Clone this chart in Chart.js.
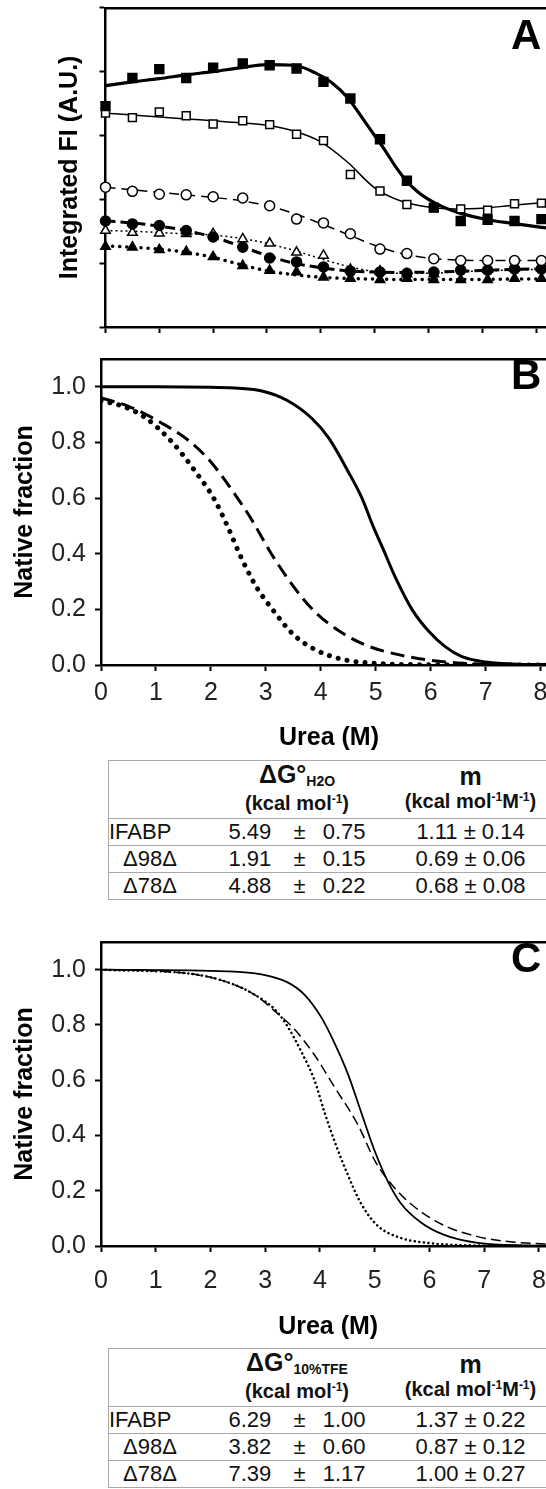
<!DOCTYPE html>
<html lang="en">
<head>
<meta charset="UTF-8">
<title>Urea denaturation of IFABP variants</title>
<script src="https://cdn.jsdelivr.net/npm/chart.js"></script>
<style>
  body {
    margin: 0;
    width: 546px;
    height: 1489px;
    overflow: hidden;
    position: relative;
    background: #fff;
    font-family: "Liberation Sans", Arial, sans-serif;
    color: #111;
  }
  canvas { position: absolute; left: 0; }
  #chartA { top: 0; }
  #chartB { top: 335px; }
  #chartC { top: 918px; }
  .panel {
    position: absolute;
    left: 511px;
    font-size: 42px;
    font-weight: bold;
    line-height: 1;
    color: #000;
  }
  table.params {
    position: absolute;
    left: 108px;
    width: 467px;
    table-layout: fixed;
    border-collapse: collapse;
    border-left: 1.5px solid #a8a8a8;
    font-size: 22px;
  }
  table.params td {
    padding: 0;
    height: 25px;
    border-top: 1.5px solid #a8a8a8;
    white-space: nowrap;
    vertical-align: middle;
  }
  table.params tr:last-child td { border-bottom: 1.5px solid #a8a8a8; }
  table.params tr.head td { height: 52px; text-align: center; font-weight: bold; }
  .h1 { font-size: 25px; line-height: 26px; }
  .h1 sub { font-size: 14px; vertical-align: baseline; position: relative; top: 3px; }
  .h2 { font-size: 20px; line-height: 24px; }
  .h2 sup { font-size: 12px; vertical-align: baseline; position: relative; top: -7px; }
  td.name { padding-left: 4px; }
  td.name.ind { padding-left: 14px; }
  td.val { padding-left: 4px; }
  td.pm { text-align: center; }
  td.err { text-align: right; padding-right: 3px; }
  td.m { text-align: center; }
</style>
</head>
<body>
  <canvas id="chartA" width="560" height="345"></canvas>
  <canvas id="chartB" width="560" height="420"></canvas>
  <canvas id="chartC" width="560" height="430"></canvas>

  <div class="panel" style="top:14px">A</div>
  <div class="panel" style="top:354px">B</div>
  <div class="panel" style="top:937px">C</div>

  <table class="params" id="tableH2O" style="top:760px">
    <colgroup><col style="width:120px"><col style="width:57px"><col style="width:28px"><col style="width:52px"><col style="width:210px"></colgroup>
    <tr class="head">
      <td></td>
      <td colspan="3"><div class="h1">&Delta;G&deg;<sub>H2O</sub></div><div class="h2">(kcal mol<sup>-1</sup>)</div></td>
      <td><div class="h1">m</div><div class="h2">(kcal mol<sup>-1</sup>M<sup>-1</sup>)</div></td>
    </tr>
  </table>

  <table class="params" id="tableTFE" style="top:1348px">
    <colgroup><col style="width:120px"><col style="width:57px"><col style="width:28px"><col style="width:52px"><col style="width:210px"></colgroup>
    <tr class="head">
      <td></td>
      <td colspan="3"><div class="h1">&Delta;G&deg;<sub>10%TFE</sub></div><div class="h2">(kcal mol<sup>-1</sup>)</div></td>
      <td><div class="h1">m</div><div class="h2">(kcal mol<sup>-1</sup>M<sup>-1</sup>)</div></td>
    </tr>
  </table>

<script>
  // urea axis
  const xTicks = [0, 1, 2, 3, 4, 5, 6, 7, 8];
  const xMax = 8.3;

  // panel A: measured points (integrated fluorescence, arbitrary units)
  const ureaPts = [0, 0.5, 1.0, 1.5, 2.0, 2.55, 3.05, 3.55, 4.05, 4.55, 5.1, 5.6, 6.1, 6.6, 7.1, 7.6, 8.1];
  const fillSqY = [3.46, 3.90, 4.04, 3.90, 4.06, 4.13, 4.10, 4.05, 3.84, 3.58, 2.94, 2.29, 1.87, 1.66, 1.68, 1.66, 1.69];
  const openSqY = [3.35, 3.28, 3.37, 3.31, 3.18, 3.23, 3.17, 3.02, 2.92, 2.39, 2.13, 1.92, 1.87, 1.85, 1.83, 1.93, 1.94];
  const openCircY = [2.19, 2.125, 2.08, 2.07, 2.04, 2.02, 1.90, 1.69, 1.63, 1.46, 1.22, 1.15, 1.07, 1.04, 1.04, 1.04, 1.04];
  const fillCircY = [1.66, 1.615, 1.59, 1.51, 1.41, 1.25, 1.08, 1.02, 0.94, 0.875, 0.86, 0.84, 0.86, 0.89, 0.89, 0.91, 0.91];
  const openTriY = [1.51, 1.48, 1.47, 1.46, 1.46, 1.38, 1.31, 1.17, 1.12, 0.90, 0.875, 0.83, 0.83, 0.93, 0.90, 0.92, 0.92];
  const fillTriY = [1.26, 1.25, 1.21, 1.18, 1.10, 0.96, 0.885, 0.86, 0.78, 0.76, 0.74, 0.76, 0.74, 0.74, 0.74, 0.76, 0.76];

  // panel A: fitted curves
  const thickX = [0, 0.5, 1, 1.5, 2, 2.5, 3, 3.5, 3.9, 4.2, 4.5, 4.8, 5.0, 5.2, 5.4, 5.6, 5.8, 6.0, 6.3, 6.6, 7.1, 7.6, 8.1, 8.3];
  const thickY = [3.78, 3.84, 3.89, 3.95, 4.0, 4.06, 4.11, 4.10, 3.98, 3.83, 3.59, 3.24, 3.0, 2.76, 2.5, 2.28, 2.12, 2.0, 1.87, 1.78, 1.68, 1.62, 1.56, 1.54];
  const fitX = [0, 0.5, 1, 1.5, 2, 2.5, 3, 3.5, 4, 4.5, 5, 5.5, 6, 6.5, 7, 7.5, 8, 8.3];
  const openSqFit = [3.35, 3.32, 3.29, 3.26, 3.23, 3.2, 3.16, 3.07, 2.9, 2.58, 2.18, 1.97, 1.88, 1.85, 1.86, 1.9, 1.94, 1.96];
  const openCircFit = [2.19, 2.15, 2.11, 2.07, 2.03, 1.98, 1.9, 1.78, 1.62, 1.45, 1.28, 1.15, 1.08, 1.05, 1.04, 1.04, 1.04, 1.04];
  const fillCircFit = [1.66, 1.63, 1.58, 1.51, 1.41, 1.27, 1.12, 1.0, 0.93, 0.88, 0.86, 0.855, 0.86, 0.87, 0.885, 0.9, 0.91, 0.915];
  const openTriFit = [1.51, 1.50, 1.48, 1.46, 1.44, 1.39, 1.31, 1.2, 1.07, 0.95, 0.87, 0.84, 0.84, 0.86, 0.88, 0.89, 0.9, 0.9];
  const fillTriFit = [1.27, 1.25, 1.22, 1.17, 1.09, 0.98, 0.88, 0.82, 0.78, 0.76, 0.75, 0.745, 0.745, 0.745, 0.745, 0.75, 0.75, 0.75];
  const aTicks = [0, 1, 2, 3, 4, 5];

  // panel B: native fraction in water
  const fracTicks = [0, 0.2, 0.4, 0.6, 0.8, 1.0];
  const bSolidX = [0, 1, 2, 2.5, 2.93, 3.4, 3.84, 4.14, 4.5, 4.75, 4.95, 5.15, 5.36, 5.66, 5.97, 6.27, 6.57, 7.0, 7.5, 8.3];
  const bSolidY = [1.0, 1.0, 0.998, 0.995, 0.985, 0.95, 0.886, 0.817, 0.695, 0.6, 0.5, 0.41, 0.314, 0.2, 0.12, 0.065, 0.03, 0.011, 0.004, 0.001];
  const bDashX = [0, 0.5, 1.1, 1.6, 2.0, 2.45, 2.75, 3.1, 3.55, 3.9, 4.4, 4.85, 5.35, 6.0, 6.6, 7.5, 8.3];
  const bDashY = [0.96, 0.93, 0.87, 0.806, 0.73, 0.61, 0.52, 0.40, 0.27, 0.19, 0.114, 0.069, 0.04, 0.017, 0.006, 0.002, 0.001];
  const bDotX = [0, 0.4, 0.8, 1.3, 1.7, 2.05, 2.3, 2.52, 2.8, 3.12, 3.5, 3.9, 4.4, 5.0, 6.0, 8.3];
  const bDotY = [0.95, 0.93, 0.89, 0.80, 0.70, 0.60, 0.50, 0.40, 0.29, 0.20, 0.11, 0.055, 0.02, 0.006, 0.001, 0];

  // panel C: native fraction in 10% TFE
  const cSolidX = [0, 2.3, 2.93, 3.41, 3.72, 4.02, 4.26, 4.51, 4.75, 4.99, 5.24, 5.48, 5.84, 6.27, 6.88, 7.8, 8.3];
  const cSolidY = [1.0, 0.994, 0.983, 0.954, 0.909, 0.829, 0.737, 0.623, 0.486, 0.349, 0.234, 0.154, 0.086, 0.04, 0.011, 0.002, 0.001];
  const cDashX = [0, 1.1, 1.71, 2.32, 2.81, 3.17, 3.54, 3.9, 4.26, 4.69, 5.02, 5.36, 5.72, 6.27, 6.88, 7.48, 8.3];
  const cDashY = [1.0, 0.994, 0.983, 0.954, 0.909, 0.851, 0.783, 0.691, 0.577, 0.44, 0.303, 0.211, 0.143, 0.074, 0.034, 0.015, 0.006];
  const cDotX = [0, 1.71, 2.32, 2.81, 3.2, 3.41, 3.66, 3.9, 4.08, 4.26, 4.51, 4.75, 5.05, 5.48, 5.97, 6.6, 8.3];
  const cDotY = [1.0, 0.983, 0.954, 0.909, 0.851, 0.794, 0.703, 0.6, 0.486, 0.383, 0.257, 0.154, 0.074, 0.029, 0.011, 0.003, 0];

  // tables
  const rowNames = ['IFABP', '\u039498\u0394', '\u039478\u0394'];
  const dGH2O = ['5.49', '1.91', '4.88'];
  const dGH2Oerr = ['0.75', '0.15', '0.22'];
  const mH2O = ['1.11 \u00b1 0.14', '0.69 \u00b1 0.06', '0.68 \u00b1 0.08'];
  const dGTFE = ['6.29', '3.82', '7.39'];
  const dGTFEerr = ['1.00', '0.60', '1.17'];
  const mTFE = ['1.37 \u00b1 0.22', '0.87 \u00b1 0.12', '1.00 \u00b1 0.27'];

  Chart.defaults.font.family = '"Liberation Sans", Arial, sans-serif';
  Chart.defaults.color = '#000';

  function pts(xs, ys) {
    return xs.map((x, i) => ({ x: x, y: ys[i] }));
  }

  function markers(ys, style, fill, r) {
    return {
      data: pts(ureaPts, ys), showLine: false, clip: false,
      pointStyle: style, pointRadius: r,
      pointBackgroundColor: fill, pointBorderColor: '#000', pointBorderWidth: 1.5,
      order: 0
    };
  }

  function curve(xs, ys, width, dash, cap) {
    return {
      data: pts(xs, ys), showLine: true, pointRadius: 0, fill: false,
      borderColor: '#000', borderWidth: width, borderDash: dash || [],
      borderCapStyle: cap || 'butt', cubicInterpolationMode: 'monotone',
      order: 1
    };
  }

  function makeScales(o) {
    return {
      x: {
        type: 'linear', min: 0, max: xMax,
        afterBuildTicks: s => { s.ticks = xTicks.map(v => ({ value: v })); },
        afterFit: s => { s.height = o.xHeight; },
        border: { color: '#000', width: 2.5 },
        grid: { drawOnChartArea: false, color: '#000', tickLength: 6, tickWidth: 2 },
        ticks: { display: o.labels, autoSkip: false, maxRotation: 0, font: { size: 25 }, color: '#222', padding: o.tickPad || 3 },
        title: { display: o.labels, text: 'Urea (M)', font: { size: 25, weight: 'bold' }, color: '#000', padding: { top: 0, bottom: o.titlePad || 0 } }
      },
      xTop: {
        type: 'linear', position: 'top', min: 0, max: xMax,
        afterFit: s => { s.height = 0; },
        border: { display: true, color: '#000', width: 2.5 },
        grid: { display: false },
        ticks: { display: false }
      },
      y: {
        type: 'linear', min: 0, max: o.yMax,
        afterBuildTicks: s => { s.ticks = o.yTicks.map(v => ({ value: v })); },
        afterFit: s => { s.width = o.yWidth; },
        border: { color: '#000', width: 2.5 },
        grid: { drawOnChartArea: false, color: '#000', tickLength: 6, tickWidth: 2 },
        ticks: { display: o.labels, font: { size: 25 }, color: '#222', padding: 9, callback: v => v.toFixed(1) },
        title: { display: true, text: o.yTitle, font: { size: 25, weight: 'bold' }, color: '#000', padding: { top: o.yTitlePad, bottom: 0 } }
      }
    };
  }

  function makeChart(id, datasets, o) {
    return new Chart(document.getElementById(id), {
      type: 'scatter',
      data: { datasets: datasets },
      options: {
        responsive: false,
        animation: false,
        devicePixelRatio: 1,
        layout: { padding: { top: o.padTop, right: o.padRight, left: 0, bottom: 0 } },
        plugins: { legend: { display: false }, tooltip: { enabled: false } },
        scales: makeScales(o)
      }
    });
  }

  makeChart('chartA', [
    markers(fillSqY, 'rect', '#000', 6.3),
    markers(openSqY, 'rect', '#fff', 5.6),
    markers(openCircY, 'circle', '#fff', 5),
    markers(fillCircY, 'circle', '#000', 5),
    markers(openTriY, 'triangle', '#fff', 5.5),
    markers(fillTriY, 'triangle', '#000', 5.5),
    curve(thickX, thickY, 3.2),
    curve(fitX, openSqFit, 1.5),
    curve(fitX, openCircFit, 1.5, [10, 6]),
    curve(fitX, fillCircFit, 3, [10, 5]),
    curve(fitX, openTriFit, 1.5, [2, 3]),
    curve(fitX, fillTriFit, 3.5, [0.1, 7], 'round')
  ], {
    labels: false, xHeight: 18, yMax: 5, yTicks: aTicks, yWidth: 105.5,
    yTitle: 'Integrated FI (A.U.)', yTitlePad: 55, padTop: 7, padRight: 4
  });

  makeChart('chartB', [
    curve(bSolidX, bSolidY, 3),
    curve(bDashX, bDashY, 3, [14, 7]),
    curve(bDotX, bDotY, 5, [0.1, 9], 'round')
  ], {
    labels: true, xHeight: 90, tickPad: 7, titlePad: 2, yMax: 1.1, yTicks: fracTicks, yWidth: 101,
    yTitle: 'Native fraction', yTitlePad: 10, padTop: 10, padRight: 3
  });

  makeChart('chartC', [
    curve(cSolidX, cSolidY, 1.8),
    curve(cDashX, cDashY, 1.5, [10, 5]),
    curve(cDotX, cDotY, 2.5, [0.1, 4.5], 'round')
  ], {
    labels: true, xHeight: 102, tickPad: 14, titlePad: 6, yMax: 1.1, yTicks: fracTicks, yWidth: 101,
    yTitle: 'Native fraction', yTitlePad: 10, padTop: 10, padRight: 3
  });

  function fillTable(id, dG, err, m) {
    const t = document.getElementById(id);
    rowNames.forEach((name, i) => {
      const tr = t.insertRow();
      const cells = [
        [name, i === 0 ? 'name' : 'name ind'],
        [dG[i], 'val'],
        ['\u00b1', 'pm'],
        [err[i], 'err'],
        [m[i], 'm']
      ];
      cells.forEach(c => {
        const td = tr.insertCell();
        td.textContent = c[0];
        td.className = c[1];
      });
    });
  }

  fillTable('tableH2O', dGH2O, dGH2Oerr, mH2O);
  fillTable('tableTFE', dGTFE, dGTFEerr, mTFE);
</script>
</body>
</html>
